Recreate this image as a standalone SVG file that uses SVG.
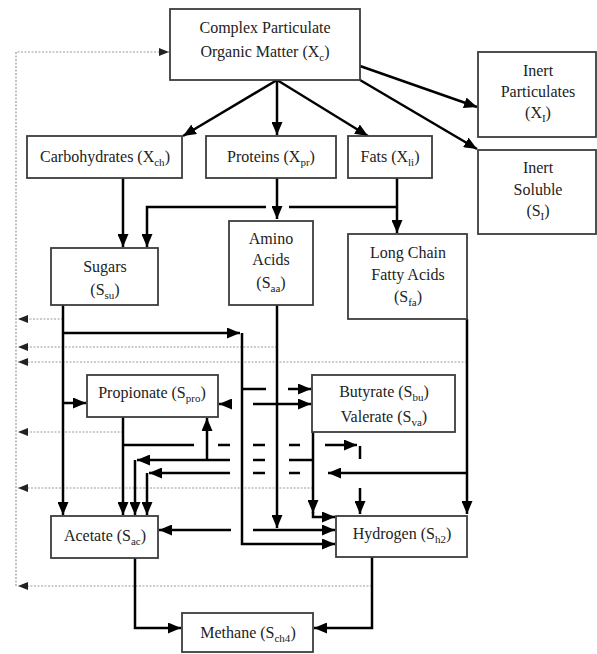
<svg xmlns="http://www.w3.org/2000/svg" width="597" height="654" viewBox="0 0 597 654">
<defs>
<style>
.box{fill:#fff;stroke:#3c3c3c;stroke-width:1.8}
.t{font-family:"Liberation Serif","Times New Roman",serif;font-size:16px;fill:#222;text-anchor:middle}
.c{fill:none;stroke:#000;stroke-width:2.5}
.ca{marker-end:url(#a)}
.d{fill:none;stroke:#9a9a9a;stroke-width:1.2;stroke-dasharray:2 1.5}
.da{marker-end:url(#ad)}
</style>
<marker id="a" viewBox="0 0 13 11" markerWidth="13" markerHeight="11" refX="13" refY="5.5" orient="auto" markerUnits="userSpaceOnUse"><path d="M0,0L13,5.5L0,11z" fill="#000"/></marker>
<marker id="ad" viewBox="0 0 10 8" markerWidth="10" markerHeight="8" refX="10" refY="4" orient="auto" markerUnits="userSpaceOnUse"><path d="M0,0L10,4L0,8z" fill="#222"/></marker>
</defs>
<rect width="597" height="654" fill="#fff"/>
<g id="connectors">
<!-- dotted returns -->
<path class="d da" d="M16,586V52H169"/>
<path class="d da" d="M63,319H18"/>
<path class="d da" d="M277,347H18"/>
<path class="d da" d="M467,362H18"/>
<path class="d da" d="M123,432H18"/>
<path class="d da" d="M313,488H18"/>
<path class="d da" d="M372,586H18"/>
<!-- disintegration -->
<path class="c ca" d="M277,80L183,136"/>
<path class="c ca" d="M277,80V135"/>
<path class="c ca" d="M277,80L368,136"/>
<path class="c ca" d="M360,66L477,107"/>
<path class="c ca" d="M360,80L477,149"/>
<!-- hydrolysis -->
<path class="c ca" d="M123,178V247"/>
<path class="c ca" d="M277,178V219"/>
<path class="c ca" d="M397,178V233"/>
<path class="c" d="M397,207H289"/>
<path class="c ca" d="M266,207H147V247"/>
<!-- sugars -->
<path class="c ca" d="M63,305V515"/>
<path class="c ca" d="M63,333H240"/>
<path class="c ca" d="M242,333V544H335"/>
<path class="c ca" d="M63,403H86"/>
<path class="c" d="M242,389H266"/>
<path class="c ca" d="M288,389H311"/>
<!-- amino acids -->
<path class="c ca" d="M277,305V528"/>
<path class="c ca" d="M277,404H311"/>
<path class="c" d="M277,404H253"/>
<path class="c ca" d="M232,404H219"/>
<path class="c" d="M277,530H253"/>
<path class="c ca" d="M231,530H159"/>
<path class="c ca" d="M277,530H335"/>
<!-- propionate -->
<path class="c ca" d="M123,417V515"/>
<path class="c" d="M123,445H194M218,445H230M253,445H265M289,445H300"/>
<path class="c ca" d="M325,445H357"/>
<path class="c" d="M360,446V459"/>
<path class="c ca" d="M360,488V514"/>
<!-- butyrate / valerate -->
<path class="c ca" d="M313,432V513"/>
<path class="c ca" d="M313,512V517H335"/>
<path class="c" d="M313,460H289M265,460H253"/>
<path class="c ca" d="M230,460H137"/>
<path class="c ca" d="M135,460V515"/>
<path class="c ca" d="M207,460V418"/>
<!-- LCFA -->
<path class="c ca" d="M467,319V514"/>
<path class="c ca" d="M467,473H328"/>
<path class="c" d="M300,473H289M265,473H253"/>
<path class="c ca" d="M230,473H149"/>
<path class="c ca" d="M147,473V515"/>
<!-- methanogenesis -->
<path class="c ca" d="M372,557V628H314"/>
<path class="c ca" d="M135,558V628H181"/>
</g>
<g id="complex"><rect class="box" x="170" y="9" width="190" height="71"/>
<text class="t" x="265" y="33">Complex Particulate</text>
<text class="t" x="265" y="57">Organic Matter (X<tspan font-size="11" dy="4">c</tspan><tspan dy="-4">)</tspan></text></g>
<g id="inert-particulates"><rect class="box" x="478" y="52" width="118" height="85"/>
<text class="t" x="538" y="76">Inert</text>
<text class="t" x="538" y="97">Particulates</text>
<text class="t" x="538" y="118">(X<tspan font-size="11" dy="4">I</tspan><tspan dy="-4">)</tspan></text></g>
<g id="inert-soluble"><rect class="box" x="478" y="150" width="118" height="84"/>
<text class="t" x="538" y="173">Inert</text>
<text class="t" x="538" y="195">Soluble</text>
<text class="t" x="538" y="216">(S<tspan font-size="11" dy="4">I</tspan><tspan dy="-4">)</tspan></text></g>
<g id="carbohydrates"><rect class="box" x="27" y="136" width="155" height="42"/>
<text class="t" x="105" y="162">Carbohydrates (X<tspan font-size="11" dy="4">ch</tspan><tspan dy="-4">)</tspan></text></g>
<g id="proteins"><rect class="box" x="206" y="136" width="130" height="42"/>
<text class="t" x="271" y="162">Proteins (X<tspan font-size="11" dy="4">pr</tspan><tspan dy="-4">)</tspan></text></g>
<g id="fats"><rect class="box" x="348" y="136" width="84" height="42"/>
<text class="t" x="390" y="162">Fats (X<tspan font-size="11" dy="4">li</tspan><tspan dy="-4">)</tspan></text></g>
<g id="sugars"><rect class="box" x="51" y="248" width="107" height="57"/>
<text class="t" x="105" y="272">Sugars</text>
<text class="t" x="105" y="295">(S<tspan font-size="11" dy="4">su</tspan><tspan dy="-4">)</tspan></text></g>
<g id="amino-acids"><rect class="box" x="229" y="221" width="84" height="84"/>
<text class="t" x="271" y="244">Amino</text>
<text class="t" x="271" y="265">Acids</text>
<text class="t" x="271" y="288">(S<tspan font-size="11" dy="4">aa</tspan><tspan dy="-4">)</tspan></text></g>
<g id="lcfa"><rect class="box" x="348" y="234" width="119" height="85"/>
<text class="t" x="408" y="258">Long Chain</text>
<text class="t" x="408" y="280">Fatty Acids</text>
<text class="t" x="408" y="302">(S<tspan font-size="11" dy="4">fa</tspan><tspan dy="-4">)</tspan></text></g>
<g id="propionate"><rect class="box" x="87" y="375" width="131" height="42"/>
<text class="t" x="152" y="398">Propionate (S<tspan font-size="11" dy="4">pro</tspan><tspan dy="-4">)</tspan></text></g>
<g id="butyrate-valerate"><rect class="box" x="312" y="375" width="143" height="57"/>
<text class="t" x="384" y="397">Butyrate (S<tspan font-size="11" dy="4">bu</tspan><tspan dy="-4">)</tspan></text>
<text class="t" x="384" y="422">Valerate (S<tspan font-size="11" dy="4">va</tspan><tspan dy="-4">)</tspan></text></g>
<g id="acetate"><rect class="box" x="51" y="516" width="107" height="42"/>
<text class="t" x="105" y="541">Acetate (S<tspan font-size="11" dy="4">ac</tspan><tspan dy="-4">)</tspan></text></g>
<g id="hydrogen"><rect class="box" x="336" y="516" width="131" height="41"/>
<text class="t" x="402" y="539">Hydrogen (S<tspan font-size="11" dy="4">h2</tspan><tspan dy="-4">)</tspan></text></g>
<g id="methane"><rect class="box" x="182" y="613" width="131" height="39"/>
<text class="t" x="248" y="638">Methane (S<tspan font-size="11" dy="4">ch4</tspan><tspan dy="-4">)</tspan></text></g>
</svg>
